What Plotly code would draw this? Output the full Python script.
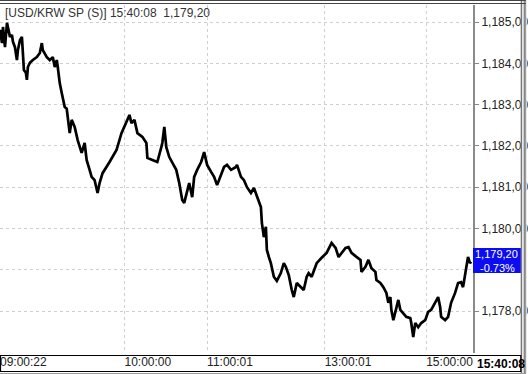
import plotly.graph_objects as go

# ---------------- data ----------------
title_text = "[USD/KRW SP (S)] 15:40:08  1,179,20"
last_price_text = "1,179,20"
change_text = "-0.73%"
last_time_text = "15:40:08"

# x = tick sequence position (non-uniform intraday time axis)
seq = [0, 2, 3, 5, 7, 8, 10, 12, 13, 15, 17, 18, 20, 22, 23, 24, 26, 27, 28, 30,
       33, 37, 40, 42, 43, 47, 50, 53, 55, 57, 58, 60, 62, 65, 67, 68, 70, 72, 75, 78,
       82, 85, 87, 90, 92, 95, 98, 100, 103, 110, 117, 122, 125, 130, 132, 135, 138, 143, 147, 148,
       153, 158, 162, 163, 165, 167, 170, 173, 177, 180, 183, 185, 188, 190, 193, 195, 198, 202, 205, 208,
       212, 215, 218, 222, 225, 228, 232, 237, 238, 242, 245, 248, 252, 255, 258, 262, 263, 265, 267, 268,
       270, 272, 275, 278, 282, 285, 287, 290, 293, 295, 298, 302, 305, 308, 310, 313, 318, 323, 328, 333,
       337, 340, 343, 347, 350, 353, 357, 362, 363, 367, 370, 373, 377, 378, 382, 385, 388, 390, 392, 393,
       395, 398, 400, 402, 405, 408, 412, 413, 415, 417, 420, 423, 427, 430, 433, 437, 440, 442, 443, 447,
       450, 453, 457, 460, 463, 465, 467, 470, 472, 473]
price = [1184.81, 1184.49, 1184.88, 1184.39, 1184.98, 1184.88, 1184.64, 1184.69, 1184.52, 1184.39,
         1184.08, 1184.32, 1184.56, 1184.64, 1184.25, 1183.84, 1183.77, 1183.60, 1183.91, 1184.01,
         1184.08, 1184.15, 1184.25, 1184.49, 1184.32, 1184.15, 1184.08, 1184.15, 1183.91, 1184.08,
         1183.91, 1183.52, 1183.28, 1182.94, 1182.90, 1182.70, 1182.31, 1182.63, 1182.46, 1182.14,
         1181.83, 1182.07, 1181.66, 1181.42, 1181.25, 1181.17, 1180.86, 1181.10, 1181.34, 1181.61,
         1181.90, 1182.31, 1182.46, 1182.75, 1182.55, 1182.63, 1182.31, 1182.22, 1182.07, 1181.71,
         1181.66, 1181.61, 1181.97, 1182.07, 1182.46, 1181.97, 1181.73, 1181.59, 1181.42, 1181.10,
         1180.69, 1180.62, 1180.93, 1181.10, 1180.76, 1181.25, 1181.42, 1181.61, 1181.85, 1181.54,
         1181.37, 1181.25, 1181.05, 1181.30, 1181.49, 1181.54, 1181.42, 1181.49, 1181.54, 1181.25,
         1181.17, 1181.00, 1180.86, 1180.98, 1180.76, 1180.52, 1180.13, 1179.79, 1180.04, 1179.48,
         1179.31, 1179.16, 1178.83, 1178.73, 1178.92, 1179.16, 1179.07, 1178.87, 1178.51, 1178.34,
         1178.68, 1178.58, 1178.51, 1178.83, 1178.92, 1178.83, 1179.16, 1179.29, 1179.41, 1179.65,
         1179.53, 1179.31, 1179.41, 1179.53, 1179.55, 1179.41, 1179.33, 1179.24, 1178.95, 1179.07,
         1179.24, 1179.04, 1178.95, 1178.75, 1178.68, 1178.58, 1178.44, 1178.20, 1178.34, 1178.03,
         1177.78, 1178.10, 1178.27, 1178.03, 1177.95, 1177.86, 1177.83, 1177.71, 1177.37, 1177.71,
         1177.61, 1177.71, 1177.78, 1177.98, 1178.03, 1178.20, 1178.34, 1178.10, 1177.86, 1177.78,
         1177.86, 1178.20, 1178.44, 1178.68, 1178.70, 1178.58, 1178.92, 1179.31, 1179.16, 1179.20]

x_tick_pos = [0, 125, 208, 326, 428]
x_tick_labels = ["09:00:22", "10:00:00", "11:00:01", "13:00:01", "15:00:00"]

y_tick_vals = [1178, 1179, 1180, 1181, 1182, 1183, 1184, 1185]
y_tick_labels = ["1,178,00", "", "1,180,00", "1,181,00", "1,182,00", "1,183,00", "1,184,00", "1,185,00"]

# ---------------- layout geometry ----------------
W, H = 528, 374
ML, MR, MT, MB = 0, 53, 5, 21
PW, PH = W - ML - MR, H - MT - MB
PLOT_BOTTOM = H - MB


def px(xp):
    return (xp - ML) / PW


def py(yp):
    return (PLOT_BOTTOM - yp) / PH


fig = go.Figure()
fig.add_trace(go.Scatter(x=seq, y=price, mode="lines",
                         line=dict(color="#000000", width=2.7), hoverinfo="skip"))

grid_col = "#cfcfcf"
fig.update_layout(
    width=W, height=H,
    margin=dict(l=ML, r=MR, t=MT, b=MB, pad=0),
    paper_bgcolor="#ffffff", plot_bgcolor="#ffffff",
    showlegend=False,
    font=dict(family="Liberation Sans, Arial, sans-serif", size=12, color="#222222"),
    xaxis=dict(range=[0, PW], tickvals=x_tick_pos, ticktext=x_tick_labels,
               ticklabelposition="outside right", ticks="", showline=False,
               showgrid=True, gridcolor=grid_col, gridwidth=1, griddash="3px,3px",
               zeroline=False, fixedrange=True,
               tickfont=dict(family="Liberation Sans, Arial, sans-serif", size=12, color="#222222")),
    yaxis=dict(range=[1176.985, 1185.412], side="right", tickvals=y_tick_vals, ticktext=y_tick_labels,
               ticks="outside", ticklen=4, tickcolor="#888888",
               showline=True, linecolor="#8a8a8a", linewidth=2,
               showgrid=True, gridcolor=grid_col, gridwidth=1, griddash="3px,3px",
               zeroline=False, fixedrange=True,
               tickfont=dict(family="Liberation Sans, Arial, sans-serif", size=12, color="#222222")),
)

shapes = []
# cover strip on the right edge (clips labels) and border
shapes.append(dict(type="rect", xref="paper", yref="paper", x0=px(523), x1=px(529), y0=py(0), y1=py(375),
                   fillcolor="#e6e6e6", line=dict(width=0), layer="above"))
shapes.append(dict(type="line", xref="paper", yref="paper", x0=px(523.5), x1=px(523.5), y0=py(0), y1=py(374),
                   line=dict(color="#555555", width=1), layer="above"))
shapes.append(dict(type="line", xref="paper", yref="paper", x0=px(527), x1=px(527), y0=py(0), y1=py(374),
                   line=dict(color="#888888", width=2), layer="above"))
# top double border
shapes.append(dict(type="line", xref="paper", yref="paper", x0=px(0), x1=px(528), y0=py(0.5), y1=py(0.5),
                   line=dict(color="#444444", width=1), layer="above"))
shapes.append(dict(type="line", xref="paper", yref="paper", x0=px(0), x1=px(528), y0=py(3.5), y1=py(3.5),
                   line=dict(color="#444444", width=1), layer="above"))
# time axis box
shapes.append(dict(type="rect", xref="paper", yref="paper", x0=px(0.5), x1=px(523), y0=py(355.5), y1=py(371.5),
                   fillcolor="rgba(0,0,0,0)", line=dict(color="#000000", width=1.2), layer="above"))
shapes.append(dict(type="line", xref="paper", yref="paper", x0=px(0), x1=px(528), y0=py(373.5), y1=py(373.5),
                   line=dict(color="#999999", width=1), layer="above"))
# last price box
shapes.append(dict(type="rect", xref="paper", yref="paper", x0=px(475), x1=px(523), y0=py(248), y1=py(273),
                   fillcolor="#0c0cf2", line=dict(width=0), layer="above"))
fig.update_layout(shapes=shapes)

annotations = [
    dict(text=title_text, xref="paper", yref="paper", x=px(3), y=py(13), xanchor="left", yanchor="middle",
         showarrow=False, font=dict(family="Liberation Sans, Arial, sans-serif", size=12, color="#333333")),
    dict(text=last_price_text, xref="paper", yref="paper", x=px(499), y=py(254), xanchor="center",
         yanchor="middle", showarrow=False,
         font=dict(family="Liberation Sans, Arial, sans-serif", size=11, color="#ffffff")),
    dict(text=change_text, xref="paper", yref="paper", x=px(500), y=py(267.5), xanchor="center",
         yanchor="middle", showarrow=False,
         font=dict(family="Liberation Sans, Arial, sans-serif", size=11, color="#ffffff")),
    dict(text="<b>" + last_time_text + "</b>", xref="paper", yref="paper", x=px(477), y=py(363.5),
         xanchor="left", yanchor="middle", showarrow=False,
         font=dict(family="Liberation Sans, Arial, sans-serif", size=12, color="#000000")),
]
fig.update_layout(annotations=annotations)

fig.write_html("out.html")
